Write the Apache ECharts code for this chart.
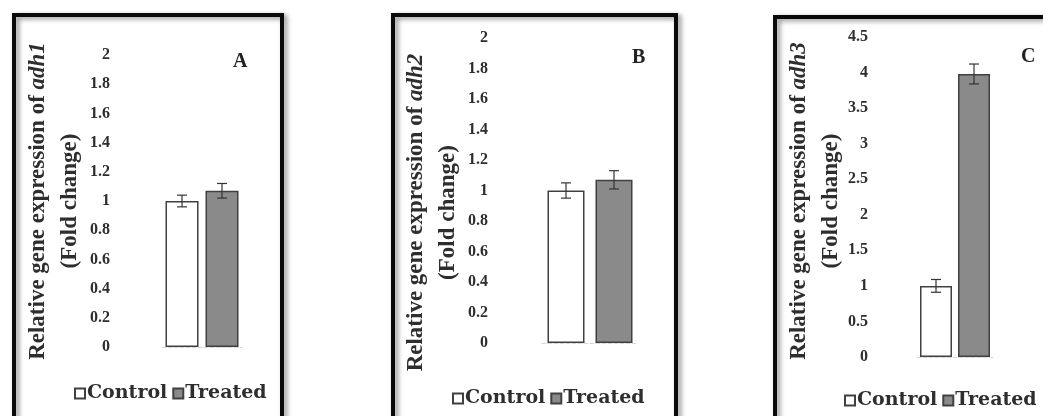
<!DOCTYPE html>
<html>
<head>
<meta charset="utf-8">
<script src="https://cdn.jsdelivr.net/npm/echarts@6/dist/echarts.min.js"></script>
<style>html,body{margin:0;padding:0;background:#fff}#c{width:1043px;height:416px}</style>
</head>
<body>
<div id="c"></div>
<script>
// ---- data ----
const panelLetters = ['A', 'B', 'C'];
const genes = ['adh1', 'adh2', 'adh3'];
const categories = ['Control', 'Treated'];
const controlValues = [1.00, 1.00, 1.00];
const treatedValues = [1.07, 1.07, 3.98];
const controlErrors = [0.04, 0.05, 0.09];
const treatedErrors = [0.05, 0.06, 0.14];
const yMax = [2, 2, 4.5];
const yInterval = [0.2, 0.2, 0.5];

// ---- layout (positions/styles only) ----
const layout = [
  {grid: {left: 162, top: 55, width: 80, height: 292}, frame: [14, 15, 268, 430], letter: [228, 47], legend: [74, 384], barWidth: 33, labelMargin: 52, nameGap: 76, namePad: 0},
  {grid: {left: 542, top: 38, width: 96, height: 305}, frame: [393, 15, 283, 430], letter: [627, 43], legend: [452, 389], barWidth: 37, labelMargin: 54, nameGap: 78, namePad: 44},
  {grid: {left: 917, top: 37, width: 76, height: 320}, frame: [775, 17, 300, 430], letter: [1016, 42], legend: [844, 391], barWidth: 32, labelMargin: 49, nameGap: 70, namePad: 8}
];

const serif = '"Liberation Serif", "Times New Roman", serif';
const grids = [], xAxes = [], yAxes = [], series = [], titles = [], legends = [], graphics = [];

layout.forEach((L, i) => {
  grids.push(Object.assign({containLabel: false}, L.grid));
  xAxes.push({
    type: 'category', gridIndex: i, data: categories,
    axisLabel: {show: false}, axisTick: {show: false},
    axisLine: {show: true, lineStyle: {color: '#d8d8d8', type: 'dashed'}}
  });
  yAxes.push({
    type: 'value', gridIndex: i, min: 0, max: yMax[i], interval: yInterval[i],
    axisLine: {show: false}, axisTick: {show: false}, splitLine: {show: false},
    axisLabel: {margin: L.labelMargin, fontFamily: serif, fontWeight: 'bold', fontSize: 16, color: '#2e2e2e'},
    name: '{a|Relative gene expression of }{i|' + genes[i] + '}\n{a|(Fold change)}',
    nameLocation: 'middle', nameRotate: 90, nameGap: L.nameGap,
    nameTextStyle: {
      padding: [0, L.namePad, 0, 0],
      rich: {
        a: {fontFamily: serif, fontWeight: 'bold', fontSize: 23, color: '#2e2e2e', lineHeight: 32},
        i: {fontFamily: serif, fontWeight: 'bold', fontStyle: 'italic', fontSize: 23, color: '#2e2e2e', lineHeight: 32}
      }
    }
  });
  series.push({
    name: 'Control', type: 'bar', xAxisIndex: i, yAxisIndex: i,
    barWidth: L.barWidth, barGap: '-100%',
    itemStyle: {color: '#ffffff', borderColor: '#404040', borderWidth: 1.5},
    data: [controlValues[i], '-']
  });
  series.push({
    name: 'Treated', type: 'bar', xAxisIndex: i, yAxisIndex: i,
    barWidth: L.barWidth, barGap: '-100%',
    itemStyle: {color: '#8a8a8a', borderColor: '#404040', borderWidth: 1.5},
    data: ['-', treatedValues[i]]
  });
  series.push({
    name: 'err' + i, type: 'custom', xAxisIndex: i, yAxisIndex: i, z: 5,
    data: [[0, controlValues[i], controlErrors[i]], [1, treatedValues[i], treatedErrors[i]]],
    renderItem: function (params, api) {
      const x = api.value(0), y = api.value(1), e = api.value(2);
      const top = api.coord([x, y + e]);
      const bot = api.coord([x, y - e]);
      const hw = 5;
      const st = {stroke: '#333', lineWidth: 1.2};
      return {type: 'group', children: [
        {type: 'line', shape: {x1: top[0], y1: top[1], x2: bot[0], y2: bot[1]}, style: st},
        {type: 'line', shape: {x1: top[0] - hw, y1: top[1], x2: top[0] + hw, y2: top[1]}, style: st},
        {type: 'line', shape: {x1: bot[0] - hw, y1: bot[1], x2: bot[0] + hw, y2: bot[1]}, style: st}
      ]};
    }
  });
  titles.push({
    text: panelLetters[i], left: L.letter[0], top: L.letter[1],
    textStyle: {fontFamily: serif, fontWeight: 'bold', fontSize: 20, color: '#222'}
  });
  legends.push({
    data: categories, left: L.legend[0], top: L.legend[1], orient: 'horizontal',
    padding: 0, width: 260,
    icon: 'rect', itemWidth: 10, itemHeight: 10, itemGap: 5,
    selectedMode: false,
    textStyle: {fontFamily: '"DejaVu Serif", serif', fontWeight: 'bold', fontSize: 19, color: '#2e2e2e', padding: [0, 0, 0, -3]}
  });
  graphics.push({
    type: 'rect', shape: {x: L.frame[0], y: L.frame[1], width: L.frame[2], height: L.frame[3]},
    style: {fill: 'none', stroke: '#0a0a0a', lineWidth: 4, shadowBlur: 5, shadowOffsetX: 3, shadowOffsetY: 2, shadowColor: 'rgba(0,0,0,0.45)'},
    z: 100
  });
});

const chart = echarts.init(document.getElementById('c'), null, {renderer: 'canvas'});
chart.setOption({
  backgroundColor: '#ffffff',
  animation: false,
  title: titles,
  legend: legends,
  grid: grids,
  xAxis: xAxes,
  yAxis: yAxes,
  series: series,
  graphic: graphics
});
</script>
</body>
</html>
